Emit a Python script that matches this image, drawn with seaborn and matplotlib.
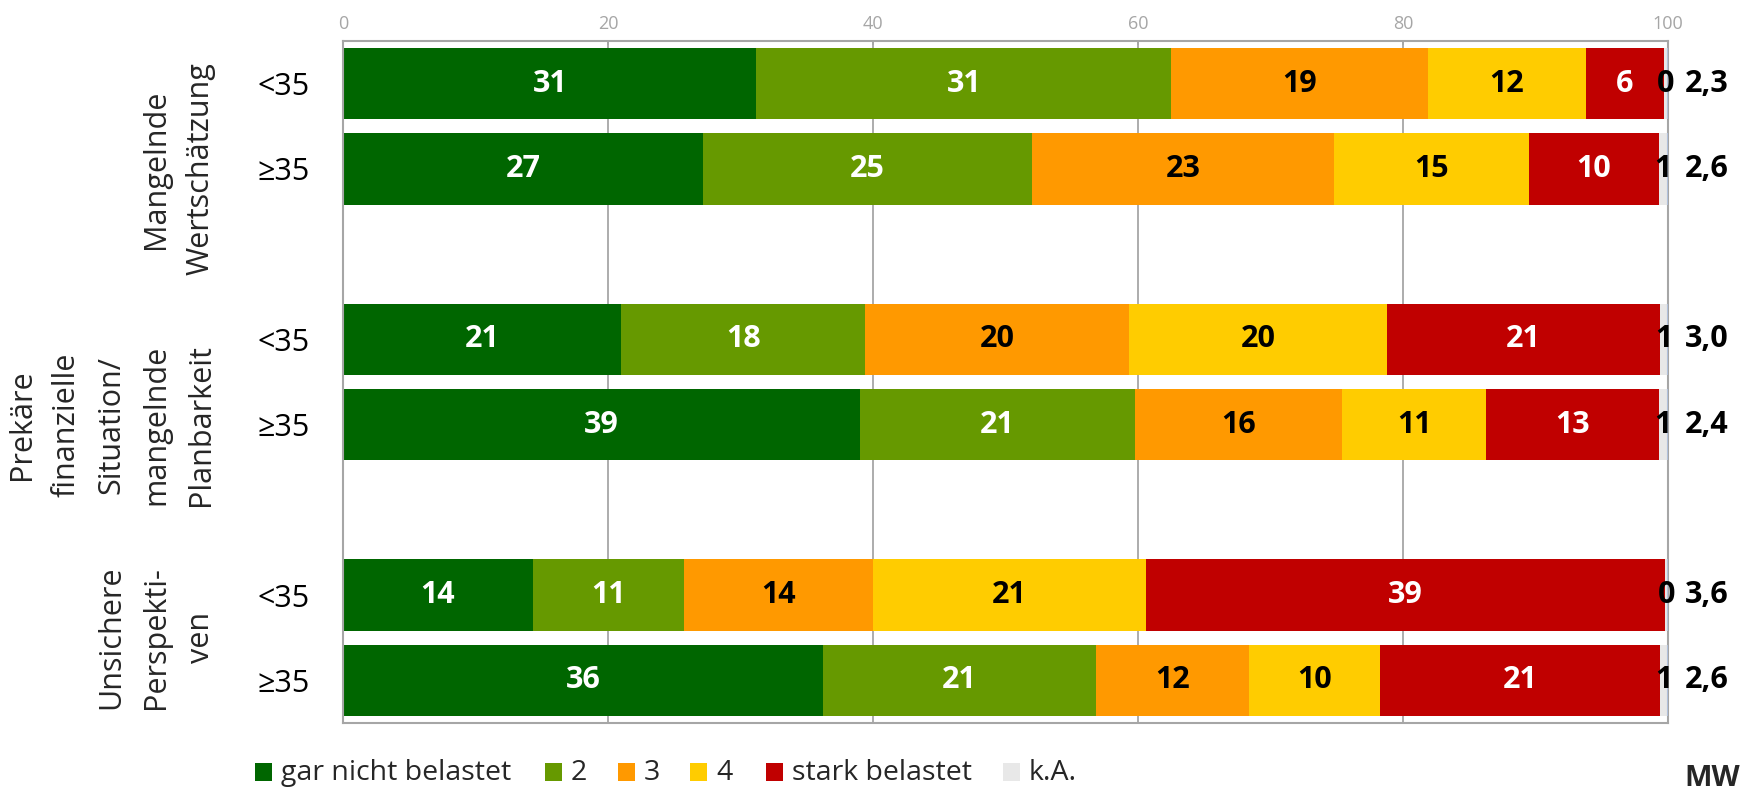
import numpy as np
import pandas as pd
import matplotlib
matplotlib.use("Agg")
import matplotlib.pyplot as plt
import matplotlib.transforms as mtrans
from matplotlib.patches import Rectangle
import seaborn as sns

# ---- data ----
groups = ["Mangelnde\nWertschätzung",
          "Prekäre\nfinanzielle\nSituation/\nmangelnde\nPlanbarkeit",
          "Unsichere\nPerspekti-\nven"]
ages = ["<35", "≥35", "<35", "≥35", "<35", "≥35"]
categories = ["gar nicht belastet", "2", "3", "4", "stark belastet", "k.A."]
gar_nicht = [31.2, 27.2, 21.0, 39.0, 14.3, 36.2]
zwei = [31.3, 24.8, 18.4, 20.8, 11.4, 20.6]
drei = [19.4, 22.8, 19.9, 15.6, 14.3, 11.6]
vier = [11.9, 14.7, 19.5, 10.9, 20.6, 9.9]
stark = [5.9, 9.8, 20.6, 13.0, 39.2, 21.1]
ka = [0.3, 0.7, 0.6, 0.7, 0.2, 0.6]
mw = [2.3, 2.6, 3.0, 2.4, 3.6, 2.6]
xticks = [0, 20, 40, 60, 80, 100]

# ---- style ----
colors = ["#006600", "#669900", "#FF9900", "#FFCC00", "#C00000", "#E8E8E8"]
label_colors = ["white", "white", "black", "black", "white", "black"]
sns.set_theme(style="white")
plt.rcParams["font.family"] = ["Open Sans", "DejaVu Sans"]

W, H = 1763, 789
pos = [0, 1, 3, 4, 6, 7]
group_pos = [1, 4, 6.5]
series = [gar_nicht, zwei, drei, vier, stark, ka]
bar_w = 0.84

fig = plt.figure(figsize=(W / 100, H / 100), dpi=100)
ax = fig.add_axes([0.1946, 0.0837, 0.7515, 0.8643])

cum = np.cumsum(np.array(series, dtype=float), axis=0)
lefts = np.vstack([np.zeros(len(pos)), cum[:-1]])

# draw cumulative layers, largest first
for k in range(len(series) - 1, -1, -1):
    df = pd.DataFrame({"pos": pos, "cum": cum[k]})
    sns.barplot(data=df, x="cum", y="pos", orient="h", native_scale=True,
                color=colors[k], saturation=1, width=bar_w, errorbar=None,
                ax=ax, linewidth=0, zorder=2)

# thin light-blue right edge of the bars
ax.vlines(cum[-1], np.array(pos) - bar_w / 2, np.array(pos) + bar_w / 2,
          color="#b4c7e7", linewidth=1.2, zorder=3)

# segment labels
for k in range(len(series)):
    for j, p in enumerate(pos):
        v = series[k][j]
        xc = lefts[k][j] + v / 2
        ax.text(xc, p, f"{v:.0f}", ha="center", va="center",
                color=label_colors[k], fontsize=22, fontweight="bold",
                clip_on=False, zorder=5)

# MW values
for j, p in enumerate(pos):
    ax.text(101.3, p, f"{mw[j]:.1f}".replace(".", ","), ha="left", va="center",
            color="black", fontsize=22, fontweight="bold", clip_on=False)

ax.set_xlim(0, 100)
ax.set_ylim(7.5, -0.5)
ax.set_xticks(xticks)
ax.set_xticklabels([str(t) for t in xticks])
ax.xaxis.tick_top()
ax.tick_params(axis="x", colors="#a6a6a6", labelcolor="#a6a6a6", labelsize=13,
               length=3, direction="in", pad=5.5, top=True, bottom=False)
ax.set_yticks(pos)
ax.set_yticklabels(ages)
ax.tick_params(axis="y", length=0, pad=24, labelsize=22, labelcolor="black")
ax.set_xlabel("")
ax.set_ylabel("")
ax.grid(axis="x", color="#a6a6a6", linewidth=1.3)
ax.grid(axis="y", visible=False)
ax.set_axisbelow(True)
for s in ax.spines.values():
    s.set_visible(True)
    s.set_color("#a6a6a6")
    s.set_linewidth(1.5)

# group labels
tr = mtrans.blended_transform_factory(fig.transFigure, ax.transData)
for g, gp in zip(groups, group_pos):
    fig.text(216 / W, gp, g, transform=tr, rotation=90, ha="right",
             va="center", multialignment="center", fontsize=22,
             linespacing=1.64)

# legend (entries placed individually)
leg_x = [255, 545, 618, 690, 766, 1003]
leg_y = 772
for c, lab, lx in zip(colors, categories, leg_x):
    fig.add_artist(Rectangle((lx / W, (H - leg_y - 9) / H), 17 / W, 18 / H,
                             transform=fig.transFigure, facecolor=c,
                             edgecolor="none"))
    fig.text((lx + 26) / W, 1 - (leg_y + 1) / H, lab, ha="left", va="center",
             fontsize=20.5)

fig.text(1712 / W, 1 - 778 / H, "MW", ha="center", va="center",
         fontsize=21, fontweight="bold")

fig.savefig("out.png", dpi=100)
